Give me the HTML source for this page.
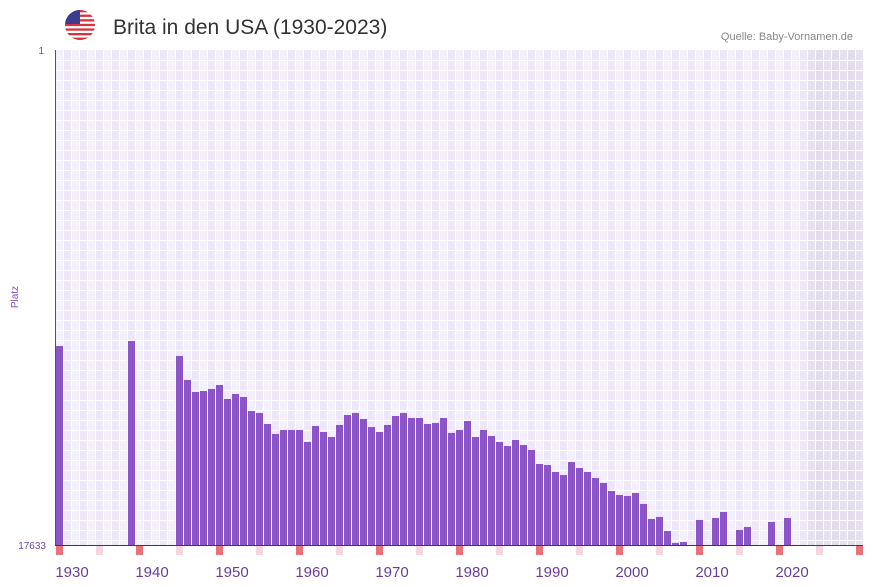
<!DOCTYPE html>
<html><head><meta charset="utf-8"><style>
body{margin:0;background:#fff;font-family:"Liberation Sans",sans-serif}
svg{display:block}
</style></head><body>
<svg id="c" width="873" height="587">
<g>
<clipPath id="fc"><circle cx="80" cy="25" r="15"/></clipPath>
<g clip-path="url(#fc)">
<rect x="65" y="10" width="30" height="30" fill="#fff"/>
<rect x="65" y="10" width="30" height="2.3" fill="#d8343c"/><rect x="65" y="14.6" width="30" height="2.3" fill="#d8343c"/><rect x="65" y="19.2" width="30" height="2.3" fill="#d8343c"/><rect x="65" y="23.8" width="30" height="2.3" fill="#d8343c"/><rect x="65" y="28.4" width="30" height="2.3" fill="#d8343c"/><rect x="65" y="33" width="30" height="2.3" fill="#d8343c"/><rect x="65" y="37.6" width="30" height="2.4" fill="#d8343c"/>
<rect x="65" y="10" width="15" height="14" fill="#3c3b8e"/>
</g></g>
<text x="113" y="34" font-size="21" fill="#333">Brita in den USA (1930-2023)</text>
<text x="853" y="40" font-size="11" fill="#888" text-anchor="end">Quelle: Baby-Vornamen.de</text>
<text x="44" y="54" font-size="10" fill="#6a4c9c" text-anchor="end">1</text>
<text x="46" y="549" font-size="10" fill="#6a4c9c" text-anchor="end">17633</text>
<text transform="translate(18,297) rotate(-90)" font-size="10" fill="#7a4cc0" text-anchor="middle">Platz</text>
<g id="grid"></g><g id="bars"></g><g id="marks"></g><g id="xl"></g>
<line x1="55.5" y1="50" x2="55.5" y2="545" stroke="#6a3d9a" stroke-width="1"/>
<line x1="55" y1="545.5" x2="863" y2="545.5" stroke="#4a2a7a" stroke-width="1"/>
</svg>
<script>
const years=[1930,1939,1945,1946,1947,1948,1949,1950,1951,1952,1953,1954,1955,1956,1957,1958,1959,1960,1961,1962,1963,1964,1965,1966,1967,1968,1969,1970,1971,1972,1973,1974,1975,1976,1977,1978,1979,1980,1981,1982,1983,1984,1985,1986,1987,1988,1989,1990,1991,1992,1993,1994,1995,1996,1997,1998,1999,2000,2001,2002,2003,2004,2005,2006,2007,2008,2010,2012,2013,2015,2016,2019,2021];
const ranks=[10545,10366,10901,11756,12183,12147,12076,11934,12432,12254,12361,12860,12932,13323,13679,13537,13537,13537,13964,13394,13608,13786,13359,13002,12932,13145,13430,13608,13359,13038,12932,13109,13109,13323,13288,13109,13643,13537,13216,13786,13537,13750,13964,14107,13893,14071,14249,14748,14783,15033,15140,14677,14890,15033,15247,15424,15709,15852,15887,15781,16172,16706,16635,17134,17561,17526,16742,16671,16457,17098,16991,16813,16671];
const tickYears=[1930,1940,1950,1960,1970,1980,1990,2000,2010,2020];
const NS='http://www.w3.org/2000/svg';
const X0=55,W=8,Y0=50,Y1=545,MAXR=17633,START=1930;
const x=y=>X0+(y-START)*W;
const yS=r=>Y0+(r-1)/(MAXR-1)*(Y1-Y0);
function mk(t,a,p){const e=document.createElementNS(NS,t);for(const k in a)e.setAttribute(k,a[k]);p.appendChild(e);return e;}
const g=document.getElementById('grid');
for(let i=0;i<101;i++){
  const shade=i>=94;
  const c=mk('rect',{x:X0+i*W,y:Y0,width:W,height:Y1-Y0,fill:shade?(i%2?'#e2dcec':'#e6e1ee'):(i%2?'#ede7f8':'#f3effb')},g);
  
  
  mk('line',{x1:X0+i*W+0.5,y1:Y0,x2:X0+i*W+0.5,y2:Y1,stroke:'#fff','stroke-width':1},g);
}
for(let yy=Y0+10;yy<Y1;yy+=10){mk('line',{x1:X0,y1:yy+0.5,x2:863,y2:yy+0.5,stroke:'#fff','stroke-width':1},g);}
const b=document.getElementById('bars');
years.forEach((yr,i)=>{
  const top=yS(ranks[i]);
  const r=mk('rect',{x:x(yr)+1,y:top,width:W-1,height:Y1-top,fill:'#8b55c8'},b);
  
  
});
const m=document.getElementById('marks');
for(let i=0;i<101;i++){
  if(i%5!==0)continue;
  const r=mk('rect',{x:X0+i*W+1,y:546,width:W-1,height:9,fill:i%10===0?'#e8737b':'#f5d6de'},m);
  
  
}
const xl=document.getElementById('xl');
tickYears.forEach(t=>{
  const e=mk('text',{x:x(t)+17,y:577,'font-size':15,fill:'#6a3d9a','text-anchor':'middle'},xl);
  e.textContent=t;
  
  
});
</script>
</body></html>
